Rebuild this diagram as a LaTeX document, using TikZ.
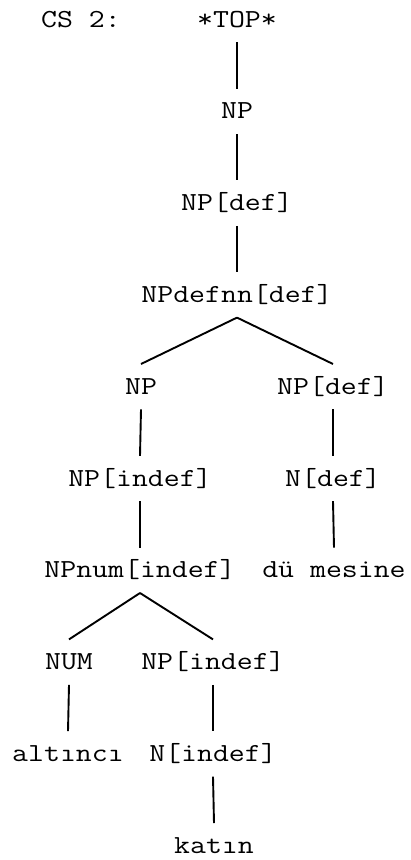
\documentclass[tikz,border=0pt]{standalone}
\usepackage{fontspec}
\newfontfamily\treemono[FakeStretch=1.19]{Latin Modern Mono}
\begin{document}
\begin{tikzpicture}[x=1pt,y=-1pt,
  lbl/.style={font=\treemono\fontsize{26}{30}\selectfont, inner sep=0pt, text height=30pt, text depth=15pt, anchor=base},
  br/.style={line width=1.9pt}]
\useasboundingbox (0,0) rectangle (411,860);
\node[lbl, anchor=base west] (cs) at (41,27) {CS 2:};
\node[lbl] (top) at (237,27) {*TOP*};
\node[lbl] (np1) at (237,118.8) {NP};
\node[lbl] (npdef) at (237,210.6) {NP[def]};
\node[lbl] (npdefnn) at (237,302.4) {NPdefnn[def]};
\node[lbl] (np2) at (141,394.2) {NP};
\node[lbl] (npdef2) at (333,394.2) {NP[def]};
\node[lbl] (npindef) at (140,486) {NP[indef]};
\node[lbl] (ndef) at (333,486) {N[def]};
\node[lbl] (npnum) at (140,577.8) {NPnum[indef]};
\node[lbl] (dum) at (334,577.8) {dü mesine};
\node[lbl] (num) at (69,669.6) {NUM};
\node[lbl] (npindef2) at (213,669.6) {NP[indef]};
\node[lbl] (alt) at (68,761.4) {altıncı};
\node[lbl] (nindef) at (213,761.4) {N[indef]};
\node[lbl] (kat) at (214,853.2) {katın};
\draw[br] (top.south) -- (np1.north);
\draw[br] (np1.south) -- (npdef.north);
\draw[br] (npdef.south) -- (npdefnn.north);
\draw[br] (npdefnn.south) -- (np2.north);
\draw[br] (npdefnn.south) -- (npdef2.north);
\draw[br] (np2.south) -- (npindef.north);
\draw[br] (npdef2.south) -- (ndef.north);
\draw[br] (npindef.south) -- (npnum.north);
\draw[br] (ndef.south) -- (dum.north);
\draw[br] (npnum.south) -- (num.north);
\draw[br] (npnum.south) -- (npindef2.north);
\draw[br] (num.south) -- (alt.north);
\draw[br] (npindef2.south) -- (nindef.north);
\draw[br] (nindef.south) -- (kat.north);
\end{tikzpicture}
\end{document}
